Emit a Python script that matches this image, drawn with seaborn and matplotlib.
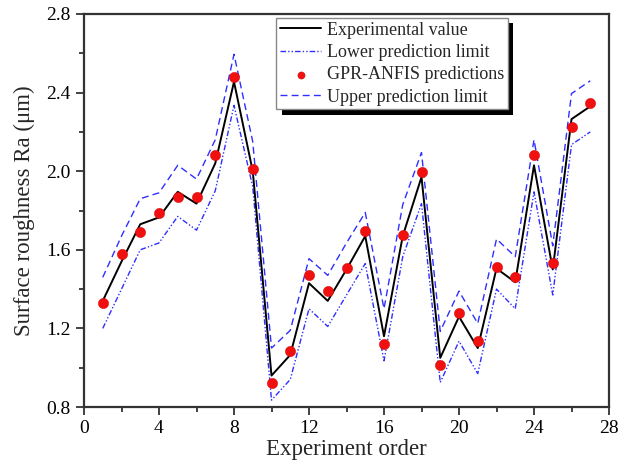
import numpy as np
import pandas as pd
import matplotlib
matplotlib.use("Agg")
import matplotlib.pyplot as plt
import matplotlib.patheffects as pe
import seaborn as sns

order = list(range(1, 28))
experimental = [1.34, 1.54, 1.73, 1.765, 1.895, 1.835, 2.04, 2.455, 2.0, 0.96,
                1.065, 1.43, 1.34, 1.50, 1.67, 1.16, 1.67, 1.97, 1.05, 1.26,
                1.10, 1.505, 1.435, 2.03, 1.50, 2.265, 2.33]
predictions = [1.33, 1.58, 1.69, 1.785, 1.87, 1.87, 2.08, 2.48, 2.01, 0.92,
               1.085, 1.47, 1.39, 1.505, 1.695, 1.12, 1.675, 1.995, 1.015, 1.28,
               1.135, 1.51, 1.46, 2.08, 1.535, 2.225, 2.345]
lower = [1.20, 1.40, 1.60, 1.635, 1.77, 1.70, 1.90, 2.335, 1.92, 0.835,
         0.94, 1.30, 1.21, 1.37, 1.53, 1.035, 1.565, 1.835, 0.925, 1.135,
         0.97, 1.40, 1.30, 1.895, 1.37, 2.135, 2.20]
upper = [1.46, 1.67, 1.86, 1.89, 2.03, 1.96, 2.16, 2.595, 2.15, 1.10,
         1.19, 1.555, 1.47, 1.635, 1.79, 1.30, 1.83, 2.095, 1.185, 1.39,
         1.225, 1.655, 1.565, 2.16, 1.62, 2.395, 2.46]

df = pd.DataFrame({"order": order, "exp": experimental, "pred": predictions,
                   "low": lower, "up": upper})

sns.set_style("ticks")
plt.rcParams["font.family"] = ["Liberation Serif", "DejaVu Serif"]

fig = plt.figure(figsize=(6.24, 4.68), dpi=100)
ax = fig.add_axes([84 / 624, 1 - 407 / 468, 525 / 624, 393 / 468])

blue = "#2f2fff"
sns.lineplot(data=df, x="order", y="exp", ax=ax, color="black", lw=1.4,
             label="Experimental value", zorder=3)
sns.lineplot(data=df, x="order", y="low", ax=ax, color=blue, lw=1.0,
             label="Lower prediction limit", zorder=2)
ax.lines[-1].set_dashes([4, 1.5, 1, 1.5, 1, 1.5])
sns.scatterplot(data=df, x="order", y="pred", ax=ax, color="#f01010",
                edgecolor="#d00000", linewidth=0.3, s=55,
                label="GPR-ANFIS predictions", zorder=4)
sns.lineplot(data=df, x="order", y="up", ax=ax, color=blue, lw=1.0,
             label="Upper prediction limit", zorder=2)
ax.lines[-1].set_linestyle((0, (5, 3)))

ax.set_xlim(0, 28)
ax.set_ylim(0.8, 2.8)
ax.set_xticks(np.arange(0, 29, 4))
ax.set_xticks(np.arange(0, 29, 2), minor=True)
ax.set_yticks(np.arange(0.8, 2.81, 0.4))
ax.set_yticks(np.arange(0.8, 2.81, 0.2), minor=True)
ax.set_yticklabels([f"{v:.1f}" for v in np.arange(0.8, 2.81, 0.4)])
ax.tick_params(axis="both", which="major", direction="out", length=6,
               width=1.3, labelsize=14, color="#333333", labelcolor="black")
ax.tick_params(axis="both", which="minor", direction="out", length=3.5,
               width=1.3, color="#333333")
for sp in ax.spines.values():
    sp.set_linewidth(1.6)
    sp.set_color("#333333")

ax.set_xlabel("Experiment order", fontsize=16.5, labelpad=1)
ax.set_ylabel("Surface roughness Ra (μm)", fontsize=16.5, labelpad=8)

leg = ax.legend(loc="upper left", bbox_to_anchor=(0.366, 0.99), fontsize=13,
                frameon=True, fancybox=False, shadow=False,
                borderpad=0.2, labelspacing=0.3, handlelength=2.3,
                handletextpad=0.3, borderaxespad=0, markerscale=0.7)
frame = leg.get_frame()
frame.set_edgecolor("#888888")
frame.set_linewidth(1.0)
frame.set_alpha(1)
frame.set_path_effects([pe.SimplePatchShadow(offset=(4, -4),
                                             shadow_rgbFace="black", alpha=1),
                        pe.Normal()])

fig.savefig("out.png", dpi=100)
